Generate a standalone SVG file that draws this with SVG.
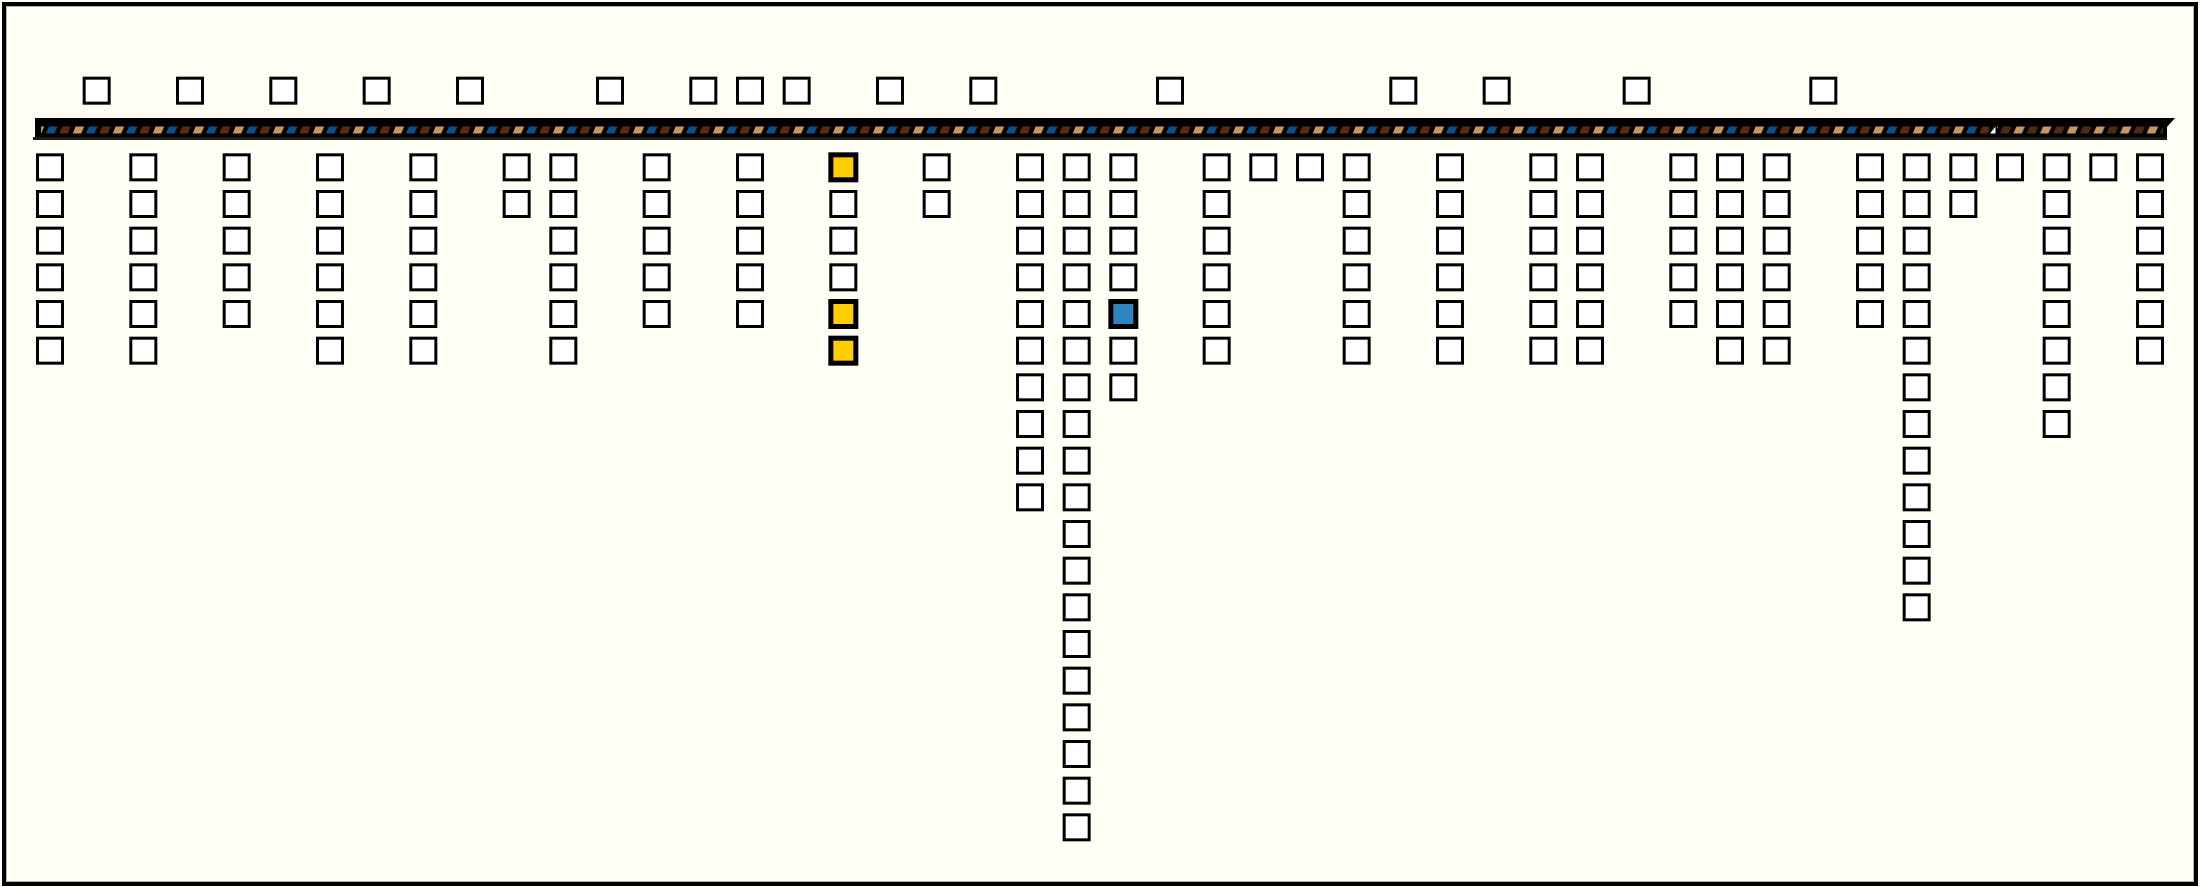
<svg xmlns="http://www.w3.org/2000/svg" width="2200" height="887" viewBox="0 0 2200 887">
<style>
.sq{fill:#ffffff;stroke:#000000;stroke-width:3}
.yl{fill:#ffcc00;stroke:#000000;stroke-width:5}
.bl{fill:#2e86c1;stroke:#000000;stroke-width:5}
</style>
<defs>
<pattern id="stripeA" patternUnits="userSpaceOnUse" x="46" y="118" width="40" height="20">
<polygon points="0,15.5 8.5,15.5 11.5,8.5 3,8.5" fill="#0b4f85"/>
<polygon points="13.33,15.5 21.83,15.5 24.83,8.5 16.33,8.5" fill="#5a2a12"/>
<polygon points="26.67,15.5 35.17,15.5 38.17,8.5 29.67,8.5" fill="#c8985a"/>
</pattern>
<pattern id="stripeB" patternUnits="userSpaceOnUse" x="2000" y="118" width="26.67" height="20">
<polygon points="0,15.5 8.5,15.5 11.5,8.5 3,8.5" fill="#4e2c14"/>
<polygon points="13.33,15.5 21.83,15.5 24.83,8.5 16.33,8.5" fill="#c8985a"/>
</pattern>
</defs>
<rect x="0" y="0" width="2200" height="887" fill="#fffff5"/>
<rect x="4" y="4" width="2192" height="880" fill="none" stroke="#000000" stroke-width="4"/>
<rect x="6.5" y="6.5" width="2187" height="875" fill="none" stroke="#b0b0a8" stroke-width="1"/>

<g id="bar">
<polygon points="35,118 2175,118 2167,127 2167,138 35,138" fill="#000000"/>
<rect x="33" y="137" width="2134" height="3" fill="#1a1a1a"/>
<rect x="41" y="126" width="1948" height="8" fill="url(#stripeA)"/>
<rect x="1997" y="126" width="166" height="8" fill="url(#stripeB)"/>
<polygon points="1990,133.5 1995.5,133.5 1995.5,126.5" fill="#ffffff"/>
</g>

<g id="connectors"></g>

<g id="top-row">
<g id="t1"><rect class="sq" x="84.17" y="78.17" width="25" height="25"/></g>
<g id="t3"><rect class="sq" x="177.5" y="78.17" width="25" height="25"/></g>
<g id="t5"><rect class="sq" x="270.83" y="78.17" width="25" height="25"/></g>
<g id="t7"><rect class="sq" x="364.17" y="78.17" width="25" height="25"/></g>
<g id="t9"><rect class="sq" x="457.5" y="78.17" width="25" height="25"/></g>
<g id="t12"><rect class="sq" x="597.5" y="78.17" width="25" height="25"/></g>
<g id="t14"><rect class="sq" x="690.83" y="78.17" width="25" height="25"/></g>
<g id="t15"><rect class="sq" x="737.5" y="78.17" width="25" height="25"/></g>
<g id="t16"><rect class="sq" x="784.17" y="78.17" width="25" height="25"/></g>
<g id="t18"><rect class="sq" x="877.5" y="78.17" width="25" height="25"/></g>
<g id="t20"><rect class="sq" x="970.83" y="78.17" width="25" height="25"/></g>
<g id="t24"><rect class="sq" x="1157.5" y="78.17" width="25" height="25"/></g>
<g id="t29"><rect class="sq" x="1390.83" y="78.17" width="25" height="25"/></g>
<g id="t31"><rect class="sq" x="1484.17" y="78.17" width="25" height="25"/></g>
<g id="t34"><rect class="sq" x="1624.17" y="78.17" width="25" height="25"/></g>
<g id="t38"><rect class="sq" x="1810.83" y="78.17" width="25" height="25"/></g>
</g>

<g id="col0" transform="translate(37.5,0)">
<g id="c0r0"><rect class="sq" x="0" y="154.83" width="25" height="25"/></g>
<g id="c0r1"><rect class="sq" x="0" y="191.5" width="25" height="25"/></g>
<g id="c0r2"><rect class="sq" x="0" y="228.17" width="25" height="25"/></g>
<g id="c0r3"><rect class="sq" x="0" y="264.83" width="25" height="25"/></g>
<g id="c0r4"><rect class="sq" x="0" y="301.5" width="25" height="25"/></g>
<g id="c0r5"><rect class="sq" x="0" y="338.17" width="25" height="25"/></g>
</g>
<g id="col2" transform="translate(130.83,0)">
<g id="c2r0"><rect class="sq" x="0" y="154.83" width="25" height="25"/></g>
<g id="c2r1"><rect class="sq" x="0" y="191.5" width="25" height="25"/></g>
<g id="c2r2"><rect class="sq" x="0" y="228.17" width="25" height="25"/></g>
<g id="c2r3"><rect class="sq" x="0" y="264.83" width="25" height="25"/></g>
<g id="c2r4"><rect class="sq" x="0" y="301.5" width="25" height="25"/></g>
<g id="c2r5"><rect class="sq" x="0" y="338.17" width="25" height="25"/></g>
</g>
<g id="col4" transform="translate(224.17,0)">
<g id="c4r0"><rect class="sq" x="0" y="154.83" width="25" height="25"/></g>
<g id="c4r1"><rect class="sq" x="0" y="191.5" width="25" height="25"/></g>
<g id="c4r2"><rect class="sq" x="0" y="228.17" width="25" height="25"/></g>
<g id="c4r3"><rect class="sq" x="0" y="264.83" width="25" height="25"/></g>
<g id="c4r4"><rect class="sq" x="0" y="301.5" width="25" height="25"/></g>
</g>
<g id="col6" transform="translate(317.5,0)">
<g id="c6r0"><rect class="sq" x="0" y="154.83" width="25" height="25"/></g>
<g id="c6r1"><rect class="sq" x="0" y="191.5" width="25" height="25"/></g>
<g id="c6r2"><rect class="sq" x="0" y="228.17" width="25" height="25"/></g>
<g id="c6r3"><rect class="sq" x="0" y="264.83" width="25" height="25"/></g>
<g id="c6r4"><rect class="sq" x="0" y="301.5" width="25" height="25"/></g>
<g id="c6r5"><rect class="sq" x="0" y="338.17" width="25" height="25"/></g>
</g>
<g id="col8" transform="translate(410.83,0)">
<g id="c8r0"><rect class="sq" x="0" y="154.83" width="25" height="25"/></g>
<g id="c8r1"><rect class="sq" x="0" y="191.5" width="25" height="25"/></g>
<g id="c8r2"><rect class="sq" x="0" y="228.17" width="25" height="25"/></g>
<g id="c8r3"><rect class="sq" x="0" y="264.83" width="25" height="25"/></g>
<g id="c8r4"><rect class="sq" x="0" y="301.5" width="25" height="25"/></g>
<g id="c8r5"><rect class="sq" x="0" y="338.17" width="25" height="25"/></g>
</g>
<g id="col10" transform="translate(504.17,0)">
<g id="c10r0"><rect class="sq" x="0" y="154.83" width="25" height="25"/></g>
<g id="c10r1"><rect class="sq" x="0" y="191.5" width="25" height="25"/></g>
</g>
<g id="col11" transform="translate(550.83,0)">
<g id="c11r0"><rect class="sq" x="0" y="154.83" width="25" height="25"/></g>
<g id="c11r1"><rect class="sq" x="0" y="191.5" width="25" height="25"/></g>
<g id="c11r2"><rect class="sq" x="0" y="228.17" width="25" height="25"/></g>
<g id="c11r3"><rect class="sq" x="0" y="264.83" width="25" height="25"/></g>
<g id="c11r4"><rect class="sq" x="0" y="301.5" width="25" height="25"/></g>
<g id="c11r5"><rect class="sq" x="0" y="338.17" width="25" height="25"/></g>
</g>
<g id="col13" transform="translate(644.17,0)">
<g id="c13r0"><rect class="sq" x="0" y="154.83" width="25" height="25"/></g>
<g id="c13r1"><rect class="sq" x="0" y="191.5" width="25" height="25"/></g>
<g id="c13r2"><rect class="sq" x="0" y="228.17" width="25" height="25"/></g>
<g id="c13r3"><rect class="sq" x="0" y="264.83" width="25" height="25"/></g>
<g id="c13r4"><rect class="sq" x="0" y="301.5" width="25" height="25"/></g>
</g>
<g id="col15" transform="translate(737.5,0)">
<g id="c15r0"><rect class="sq" x="0" y="154.83" width="25" height="25"/></g>
<g id="c15r1"><rect class="sq" x="0" y="191.5" width="25" height="25"/></g>
<g id="c15r2"><rect class="sq" x="0" y="228.17" width="25" height="25"/></g>
<g id="c15r3"><rect class="sq" x="0" y="264.83" width="25" height="25"/></g>
<g id="c15r4"><rect class="sq" x="0" y="301.5" width="25" height="25"/></g>
</g>
<g id="col17" transform="translate(830.83,0)">
<g id="c17r0"><rect class="yl" x="0" y="154.83" width="25" height="25"/></g>
<g id="c17r1"><rect class="sq" x="0" y="191.5" width="25" height="25"/></g>
<g id="c17r2"><rect class="sq" x="0" y="228.17" width="25" height="25"/></g>
<g id="c17r3"><rect class="sq" x="0" y="264.83" width="25" height="25"/></g>
<g id="c17r4"><rect class="yl" x="0" y="301.5" width="25" height="25"/></g>
<g id="c17r5"><rect class="yl" x="0" y="338.17" width="25" height="25"/></g>
</g>
<g id="col19" transform="translate(924.17,0)">
<g id="c19r0"><rect class="sq" x="0" y="154.83" width="25" height="25"/></g>
<g id="c19r1"><rect class="sq" x="0" y="191.5" width="25" height="25"/></g>
</g>
<g id="col21" transform="translate(1017.5,0)">
<g id="c21r0"><rect class="sq" x="0" y="154.83" width="25" height="25"/></g>
<g id="c21r1"><rect class="sq" x="0" y="191.5" width="25" height="25"/></g>
<g id="c21r2"><rect class="sq" x="0" y="228.17" width="25" height="25"/></g>
<g id="c21r3"><rect class="sq" x="0" y="264.83" width="25" height="25"/></g>
<g id="c21r4"><rect class="sq" x="0" y="301.5" width="25" height="25"/></g>
<g id="c21r5"><rect class="sq" x="0" y="338.17" width="25" height="25"/></g>
<g id="c21r6"><rect class="sq" x="0" y="374.83" width="25" height="25"/></g>
<g id="c21r7"><rect class="sq" x="0" y="411.5" width="25" height="25"/></g>
<g id="c21r8"><rect class="sq" x="0" y="448.17" width="25" height="25"/></g>
<g id="c21r9"><rect class="sq" x="0" y="484.83" width="25" height="25"/></g>
</g>
<g id="col22" transform="translate(1064.17,0)">
<g id="c22r0"><rect class="sq" x="0" y="154.83" width="25" height="25"/></g>
<g id="c22r1"><rect class="sq" x="0" y="191.5" width="25" height="25"/></g>
<g id="c22r2"><rect class="sq" x="0" y="228.17" width="25" height="25"/></g>
<g id="c22r3"><rect class="sq" x="0" y="264.83" width="25" height="25"/></g>
<g id="c22r4"><rect class="sq" x="0" y="301.5" width="25" height="25"/></g>
<g id="c22r5"><rect class="sq" x="0" y="338.17" width="25" height="25"/></g>
<g id="c22r6"><rect class="sq" x="0" y="374.83" width="25" height="25"/></g>
<g id="c22r7"><rect class="sq" x="0" y="411.5" width="25" height="25"/></g>
<g id="c22r8"><rect class="sq" x="0" y="448.17" width="25" height="25"/></g>
<g id="c22r9"><rect class="sq" x="0" y="484.83" width="25" height="25"/></g>
<g id="c22r10"><rect class="sq" x="0" y="521.5" width="25" height="25"/></g>
<g id="c22r11"><rect class="sq" x="0" y="558.17" width="25" height="25"/></g>
<g id="c22r12"><rect class="sq" x="0" y="594.83" width="25" height="25"/></g>
<g id="c22r13"><rect class="sq" x="0" y="631.5" width="25" height="25"/></g>
<g id="c22r14"><rect class="sq" x="0" y="668.17" width="25" height="25"/></g>
<g id="c22r15"><rect class="sq" x="0" y="704.83" width="25" height="25"/></g>
<g id="c22r16"><rect class="sq" x="0" y="741.5" width="25" height="25"/></g>
<g id="c22r17"><rect class="sq" x="0" y="778.17" width="25" height="25"/></g>
<g id="c22r18"><rect class="sq" x="0" y="814.83" width="25" height="25"/></g>
</g>
<g id="col23" transform="translate(1110.83,0)">
<g id="c23r0"><rect class="sq" x="0" y="154.83" width="25" height="25"/></g>
<g id="c23r1"><rect class="sq" x="0" y="191.5" width="25" height="25"/></g>
<g id="c23r2"><rect class="sq" x="0" y="228.17" width="25" height="25"/></g>
<g id="c23r3"><rect class="sq" x="0" y="264.83" width="25" height="25"/></g>
<g id="c23r4"><rect class="bl" x="0" y="301.5" width="25" height="25"/></g>
<g id="c23r5"><rect class="sq" x="0" y="338.17" width="25" height="25"/></g>
<g id="c23r6"><rect class="sq" x="0" y="374.83" width="25" height="25"/></g>
</g>
<g id="col25" transform="translate(1204.17,0)">
<g id="c25r0"><rect class="sq" x="0" y="154.83" width="25" height="25"/></g>
<g id="c25r1"><rect class="sq" x="0" y="191.5" width="25" height="25"/></g>
<g id="c25r2"><rect class="sq" x="0" y="228.17" width="25" height="25"/></g>
<g id="c25r3"><rect class="sq" x="0" y="264.83" width="25" height="25"/></g>
<g id="c25r4"><rect class="sq" x="0" y="301.5" width="25" height="25"/></g>
<g id="c25r5"><rect class="sq" x="0" y="338.17" width="25" height="25"/></g>
</g>
<g id="col26" transform="translate(1250.83,0)">
<g id="c26r0"><rect class="sq" x="0" y="154.83" width="25" height="25"/></g>
</g>
<g id="col27" transform="translate(1297.5,0)">
<g id="c27r0"><rect class="sq" x="0" y="154.83" width="25" height="25"/></g>
</g>
<g id="col28" transform="translate(1344.17,0)">
<g id="c28r0"><rect class="sq" x="0" y="154.83" width="25" height="25"/></g>
<g id="c28r1"><rect class="sq" x="0" y="191.5" width="25" height="25"/></g>
<g id="c28r2"><rect class="sq" x="0" y="228.17" width="25" height="25"/></g>
<g id="c28r3"><rect class="sq" x="0" y="264.83" width="25" height="25"/></g>
<g id="c28r4"><rect class="sq" x="0" y="301.5" width="25" height="25"/></g>
<g id="c28r5"><rect class="sq" x="0" y="338.17" width="25" height="25"/></g>
</g>
<g id="col30" transform="translate(1437.5,0)">
<g id="c30r0"><rect class="sq" x="0" y="154.83" width="25" height="25"/></g>
<g id="c30r1"><rect class="sq" x="0" y="191.5" width="25" height="25"/></g>
<g id="c30r2"><rect class="sq" x="0" y="228.17" width="25" height="25"/></g>
<g id="c30r3"><rect class="sq" x="0" y="264.83" width="25" height="25"/></g>
<g id="c30r4"><rect class="sq" x="0" y="301.5" width="25" height="25"/></g>
<g id="c30r5"><rect class="sq" x="0" y="338.17" width="25" height="25"/></g>
</g>
<g id="col32" transform="translate(1530.83,0)">
<g id="c32r0"><rect class="sq" x="0" y="154.83" width="25" height="25"/></g>
<g id="c32r1"><rect class="sq" x="0" y="191.5" width="25" height="25"/></g>
<g id="c32r2"><rect class="sq" x="0" y="228.17" width="25" height="25"/></g>
<g id="c32r3"><rect class="sq" x="0" y="264.83" width="25" height="25"/></g>
<g id="c32r4"><rect class="sq" x="0" y="301.5" width="25" height="25"/></g>
<g id="c32r5"><rect class="sq" x="0" y="338.17" width="25" height="25"/></g>
</g>
<g id="col33" transform="translate(1577.5,0)">
<g id="c33r0"><rect class="sq" x="0" y="154.83" width="25" height="25"/></g>
<g id="c33r1"><rect class="sq" x="0" y="191.5" width="25" height="25"/></g>
<g id="c33r2"><rect class="sq" x="0" y="228.17" width="25" height="25"/></g>
<g id="c33r3"><rect class="sq" x="0" y="264.83" width="25" height="25"/></g>
<g id="c33r4"><rect class="sq" x="0" y="301.5" width="25" height="25"/></g>
<g id="c33r5"><rect class="sq" x="0" y="338.17" width="25" height="25"/></g>
</g>
<g id="col35" transform="translate(1670.83,0)">
<g id="c35r0"><rect class="sq" x="0" y="154.83" width="25" height="25"/></g>
<g id="c35r1"><rect class="sq" x="0" y="191.5" width="25" height="25"/></g>
<g id="c35r2"><rect class="sq" x="0" y="228.17" width="25" height="25"/></g>
<g id="c35r3"><rect class="sq" x="0" y="264.83" width="25" height="25"/></g>
<g id="c35r4"><rect class="sq" x="0" y="301.5" width="25" height="25"/></g>
</g>
<g id="col36" transform="translate(1717.5,0)">
<g id="c36r0"><rect class="sq" x="0" y="154.83" width="25" height="25"/></g>
<g id="c36r1"><rect class="sq" x="0" y="191.5" width="25" height="25"/></g>
<g id="c36r2"><rect class="sq" x="0" y="228.17" width="25" height="25"/></g>
<g id="c36r3"><rect class="sq" x="0" y="264.83" width="25" height="25"/></g>
<g id="c36r4"><rect class="sq" x="0" y="301.5" width="25" height="25"/></g>
<g id="c36r5"><rect class="sq" x="0" y="338.17" width="25" height="25"/></g>
</g>
<g id="col37" transform="translate(1764.17,0)">
<g id="c37r0"><rect class="sq" x="0" y="154.83" width="25" height="25"/></g>
<g id="c37r1"><rect class="sq" x="0" y="191.5" width="25" height="25"/></g>
<g id="c37r2"><rect class="sq" x="0" y="228.17" width="25" height="25"/></g>
<g id="c37r3"><rect class="sq" x="0" y="264.83" width="25" height="25"/></g>
<g id="c37r4"><rect class="sq" x="0" y="301.5" width="25" height="25"/></g>
<g id="c37r5"><rect class="sq" x="0" y="338.17" width="25" height="25"/></g>
</g>
<g id="col39" transform="translate(1857.5,0)">
<g id="c39r0"><rect class="sq" x="0" y="154.83" width="25" height="25"/></g>
<g id="c39r1"><rect class="sq" x="0" y="191.5" width="25" height="25"/></g>
<g id="c39r2"><rect class="sq" x="0" y="228.17" width="25" height="25"/></g>
<g id="c39r3"><rect class="sq" x="0" y="264.83" width="25" height="25"/></g>
<g id="c39r4"><rect class="sq" x="0" y="301.5" width="25" height="25"/></g>
</g>
<g id="col40" transform="translate(1904.17,0)">
<g id="c40r0"><rect class="sq" x="0" y="154.83" width="25" height="25"/></g>
<g id="c40r1"><rect class="sq" x="0" y="191.5" width="25" height="25"/></g>
<g id="c40r2"><rect class="sq" x="0" y="228.17" width="25" height="25"/></g>
<g id="c40r3"><rect class="sq" x="0" y="264.83" width="25" height="25"/></g>
<g id="c40r4"><rect class="sq" x="0" y="301.5" width="25" height="25"/></g>
<g id="c40r5"><rect class="sq" x="0" y="338.17" width="25" height="25"/></g>
<g id="c40r6"><rect class="sq" x="0" y="374.83" width="25" height="25"/></g>
<g id="c40r7"><rect class="sq" x="0" y="411.5" width="25" height="25"/></g>
<g id="c40r8"><rect class="sq" x="0" y="448.17" width="25" height="25"/></g>
<g id="c40r9"><rect class="sq" x="0" y="484.83" width="25" height="25"/></g>
<g id="c40r10"><rect class="sq" x="0" y="521.5" width="25" height="25"/></g>
<g id="c40r11"><rect class="sq" x="0" y="558.17" width="25" height="25"/></g>
<g id="c40r12"><rect class="sq" x="0" y="594.83" width="25" height="25"/></g>
</g>
<g id="col41" transform="translate(1950.83,0)">
<g id="c41r0"><rect class="sq" x="0" y="154.83" width="25" height="25"/></g>
<g id="c41r1"><rect class="sq" x="0" y="191.5" width="25" height="25"/></g>
</g>
<g id="col42" transform="translate(1997.5,0)">
<g id="c42r0"><rect class="sq" x="0" y="154.83" width="25" height="25"/></g>
</g>
<g id="col43" transform="translate(2044.17,0)">
<g id="c43r0"><rect class="sq" x="0" y="154.83" width="25" height="25"/></g>
<g id="c43r1"><rect class="sq" x="0" y="191.5" width="25" height="25"/></g>
<g id="c43r2"><rect class="sq" x="0" y="228.17" width="25" height="25"/></g>
<g id="c43r3"><rect class="sq" x="0" y="264.83" width="25" height="25"/></g>
<g id="c43r4"><rect class="sq" x="0" y="301.5" width="25" height="25"/></g>
<g id="c43r5"><rect class="sq" x="0" y="338.17" width="25" height="25"/></g>
<g id="c43r6"><rect class="sq" x="0" y="374.83" width="25" height="25"/></g>
<g id="c43r7"><rect class="sq" x="0" y="411.5" width="25" height="25"/></g>
</g>
<g id="col44" transform="translate(2090.83,0)">
<g id="c44r0"><rect class="sq" x="0" y="154.83" width="25" height="25"/></g>
</g>
<g id="col45" transform="translate(2137.5,0)">
<g id="c45r0"><rect class="sq" x="0" y="154.83" width="25" height="25"/></g>
<g id="c45r1"><rect class="sq" x="0" y="191.5" width="25" height="25"/></g>
<g id="c45r2"><rect class="sq" x="0" y="228.17" width="25" height="25"/></g>
<g id="c45r3"><rect class="sq" x="0" y="264.83" width="25" height="25"/></g>
<g id="c45r4"><rect class="sq" x="0" y="301.5" width="25" height="25"/></g>
<g id="c45r5"><rect class="sq" x="0" y="338.17" width="25" height="25"/></g>
</g>
</svg>
